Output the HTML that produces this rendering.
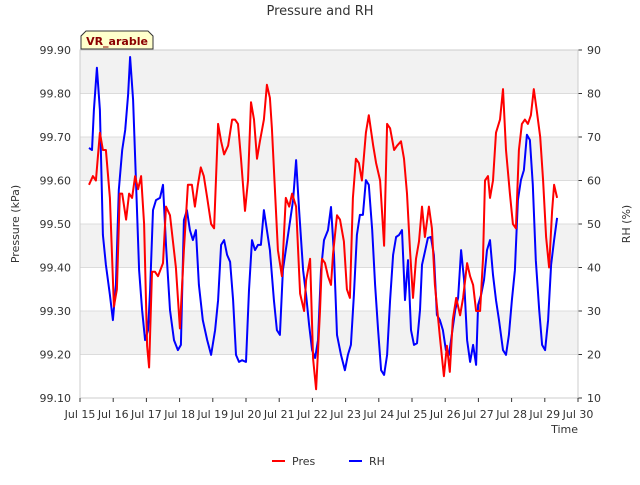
<!DOCTYPE html>
<html><head><meta charset="utf-8"><style>
body{margin:0;background:#fff;font-family:"Liberation Sans","DejaVu Sans",sans-serif}
svg text{font-family:"DejaVu Sans","Liberation Sans",sans-serif}
</style></head><body>
<svg id="c" width="640" height="480" xmlns="http://www.w3.org/2000/svg"></svg>
<script>
const presT=[15.27,15.39,15.48,15.60,15.69,15.78,15.90,16.02,16.11,16.20,16.27,16.39,16.48,16.57,16.66,16.75,16.84,16.93,17.02,17.08,17.17,17.26,17.35,17.50,17.59,17.71,17.89,18.01,18.13,18.25,18.37,18.46,18.55,18.64,18.73,18.83,18.95,19.04,19.16,19.25,19.34,19.46,19.58,19.67,19.76,19.85,19.97,20.06,20.15,20.24,20.33,20.42,20.54,20.63,20.72,20.78,20.87,20.96,21.08,21.20,21.30,21.39,21.51,21.63,21.75,21.81,21.93,22.02,22.11,22.23,22.29,22.38,22.47,22.56,22.62,22.74,22.83,22.95,23.04,23.13,23.22,23.31,23.40,23.49,23.61,23.70,23.83,23.92,24.04,24.16,24.25,24.34,24.46,24.55,24.67,24.76,24.85,24.94,25.03,25.12,25.21,25.30,25.39,25.51,25.60,25.69,25.84,25.96,26.05,26.14,26.23,26.33,26.45,26.54,26.66,26.75,26.84,26.93,27.05,27.14,27.20,27.29,27.35,27.44,27.53,27.65,27.74,27.83,27.95,28.04,28.13,28.22,28.31,28.40,28.49,28.58,28.67,28.76,28.86,28.95,29.04,29.13,29.22,29.28,29.37];
const presV=[99.59,99.61,99.60,99.71,99.67,99.67,99.56,99.31,99.35,99.57,99.57,99.51,99.57,99.56,99.61,99.58,99.61,99.50,99.22,99.17,99.39,99.39,99.38,99.41,99.54,99.52,99.40,99.26,99.44,99.59,99.59,99.54,99.59,99.63,99.61,99.56,99.50,99.49,99.73,99.69,99.66,99.68,99.74,99.74,99.73,99.65,99.53,99.60,99.78,99.74,99.65,99.69,99.74,99.82,99.79,99.72,99.58,99.44,99.38,99.56,99.54,99.57,99.54,99.34,99.30,99.37,99.42,99.19,99.12,99.30,99.42,99.41,99.38,99.36,99.43,99.52,99.51,99.46,99.35,99.33,99.56,99.65,99.64,99.60,99.71,99.75,99.68,99.64,99.60,99.45,99.73,99.72,99.67,99.68,99.69,99.65,99.57,99.44,99.33,99.42,99.46,99.54,99.47,99.54,99.49,99.36,99.24,99.15,99.22,99.16,99.28,99.33,99.29,99.33,99.41,99.38,99.36,99.30,99.30,99.42,99.60,99.61,99.56,99.60,99.71,99.74,99.81,99.67,99.57,99.50,99.49,99.67,99.73,99.74,99.73,99.75,99.81,99.76,99.70,99.60,99.47,99.40,99.53,99.59,99.56];
const rhT=[15.27,15.36,15.42,15.51,15.60,15.69,15.78,15.90,15.99,16.08,16.17,16.27,16.36,16.45,16.51,16.60,16.69,16.78,16.87,16.96,17.05,17.11,17.20,17.29,17.41,17.50,17.59,17.71,17.83,17.95,18.04,18.13,18.22,18.31,18.40,18.49,18.58,18.70,18.83,18.95,19.07,19.16,19.25,19.34,19.43,19.52,19.61,19.70,19.79,19.88,20.00,20.09,20.18,20.27,20.36,20.45,20.54,20.63,20.72,20.84,20.93,21.02,21.11,21.20,21.33,21.42,21.51,21.60,21.72,21.81,21.90,21.99,22.08,22.17,22.26,22.35,22.47,22.56,22.65,22.74,22.86,22.98,23.07,23.16,23.25,23.34,23.43,23.52,23.61,23.70,23.80,23.89,23.98,24.07,24.16,24.25,24.34,24.43,24.52,24.61,24.70,24.79,24.88,24.97,25.06,25.15,25.24,25.30,25.39,25.48,25.57,25.66,25.75,25.84,25.93,26.02,26.11,26.20,26.30,26.39,26.48,26.57,26.66,26.75,26.84,26.93,26.99,27.08,27.17,27.26,27.35,27.44,27.53,27.62,27.74,27.83,27.92,28.01,28.10,28.19,28.28,28.37,28.46,28.55,28.64,28.73,28.83,28.92,29.01,29.10,29.19,29.28,29.37];
const rhV=[67.5,67.0,76.2,85.9,76.2,47.5,40.6,33.7,27.9,36.0,57.8,67.0,71.6,79.7,88.4,78.5,59.0,39.4,30.2,23.3,25.6,34.8,53.2,55.5,56.0,59.0,45.2,30.2,23.3,21.0,22.2,50.9,53.2,48.6,46.3,48.6,36.0,27.9,23.3,19.9,25.6,32.5,45.2,46.3,42.9,41.3,32.5,19.9,18.3,18.7,18.3,34.8,46.3,44.0,45.2,45.2,53.2,48.6,44.0,32.5,25.6,24.5,39.4,44.0,50.9,55.5,64.7,53.2,39.4,33.7,26.8,21.0,19.2,23.3,39.4,46.3,48.6,53.9,42.9,24.5,19.9,16.4,19.9,22.2,33.7,47.5,52.1,52.1,60.1,59.0,48.6,36.0,25.6,16.4,15.3,19.9,32.5,42.9,47.0,47.5,48.6,32.5,41.7,25.6,22.2,22.6,30.2,40.6,43.6,46.8,47.0,42.9,29.1,27.9,25.6,21.0,19.9,24.5,30.2,33.0,44.0,37.1,23.3,18.3,22.2,17.6,31.4,33.7,37.1,44.0,46.3,38.3,32.5,27.9,21.0,19.9,24.5,32.5,39.4,55.5,60.1,62.4,70.5,69.3,59.0,41.7,30.2,22.2,21.0,27.9,40.6,46.3,51.4];
const presTicks=[99.10,99.20,99.30,99.40,99.50,99.60,99.70,99.80,99.90];
const rhTicks=[10,20,30,40,50,60,70,80,90];
const dayTicks=[15,16,17,18,19,20,21,22,23,24,25,26,27,28,29,30];

const L=80,R=578,T=50,B=398;
const xs=d=>L+(d-15)/15*(R-L);
const yp=v=>B-(v-99.1)/0.8*(B-T);
const yr=v=>B-(v-10)/80*(B-T);
const svg=document.getElementById('c');
const NS='http://www.w3.org/2000/svg';
function mk(tag,attrs,parent){const e=document.createElementNS(NS,tag);for(const k in attrs)e.setAttribute(k,attrs[k]);(parent||svg).appendChild(e);return e;}

for(let i=0;i<presTicks.length-1;i++){
  const b=mk('rect',{x:L,y:yp(presTicks[i+1]),width:R-L,height:yp(presTicks[i])-yp(presTicks[i+1]),fill:i%2?'#f2f2f2':'#ffffff'});
  
  
}
presTicks.forEach(v=>{
  const g=mk('line',{x1:L,x2:R,y1:yp(v),y2:yp(v),stroke:'#dcdcdc','stroke-width':1});
  
  
  const t=mk('text',{x:71,y:yp(v)+4,'text-anchor':'end','font-size':11,fill:'#333'});
  t.textContent=v.toFixed(2);
  
  
});
rhTicks.forEach(v=>{
  const t=mk('text',{x:587,y:yr(v)+4,'font-size':11,fill:'#333'});
  t.textContent=v;
  
  
  const k=mk('line',{x1:R,x2:R+4,y1:yr(v),y2:yr(v),stroke:'#333'});
  
  
});
const fr=mk('rect',{x:L,y:T,width:R-L,height:B-T,fill:'none',stroke:'#cccccc'});


dayTicks.forEach(d=>{
  const k=mk('line',{x1:xs(d),x2:xs(d),y1:B,y2:B+4,stroke:'#333'});
  
  
  const t=mk('text',{x:xs(d),y:418,'text-anchor':'middle','font-size':11,fill:'#333'});
  t.textContent='Jul '+d;
  
  
});
function line(ts,vs,yf,color,name){
  const p=mk('polyline',{points:ts.map((t,i)=>xs(t).toFixed(1)+','+yf(vs[i]).toFixed(1)).join(' '),fill:'none',stroke:color,'stroke-width':2,'stroke-linejoin':'round'});
  
  
}
line(rhT,rhV,yr,'#0000ff','rh-series');
line(presT,presV,yp,'#ff0000','pres-series');

function txt(s,a,name){const t=mk('text',a);t.textContent=s;return t;}
txt('Pressure and RH',{x:320,y:15,'text-anchor':'middle','font-size':13,fill:'#333'},'chart-title');
txt('Pressure (kPa)',{x:19,y:224,'text-anchor':'middle','font-size':11,fill:'#333',transform:'rotate(-90 19 224)'},'y-left-title');
txt('RH (%)',{x:630,y:224,'text-anchor':'middle','font-size':11,fill:'#333',transform:'rotate(-90 630 224)'},'y-right-title');
txt('Time',{x:578,y:433,'text-anchor':'end','font-size':11,fill:'#333'},'x-axis-title');
const vb=mk('polygon',{points:'81,49 81,36 86,31 148,31 153,36 153,49',fill:'#ffffcc',stroke:'#333'});


txt('VR_arable',{x:117,y:45,'text-anchor':'middle','font-size':11,'font-weight':'bold',fill:'#8b0000'},'site-label');
const l1=mk('line',{x1:272,x2:285,y1:461,y2:461,stroke:'#ff0000','stroke-width':2});


txt('Pres',{x:292,y:465,'font-size':11,fill:'#333'},'legend-pres');
const l2=mk('line',{x1:349,x2:362,y1:461,y2:461,stroke:'#0000ff','stroke-width':2});


txt('RH',{x:369,y:465,'font-size':11,fill:'#333'},'legend-rh');
</script>
</body></html>
